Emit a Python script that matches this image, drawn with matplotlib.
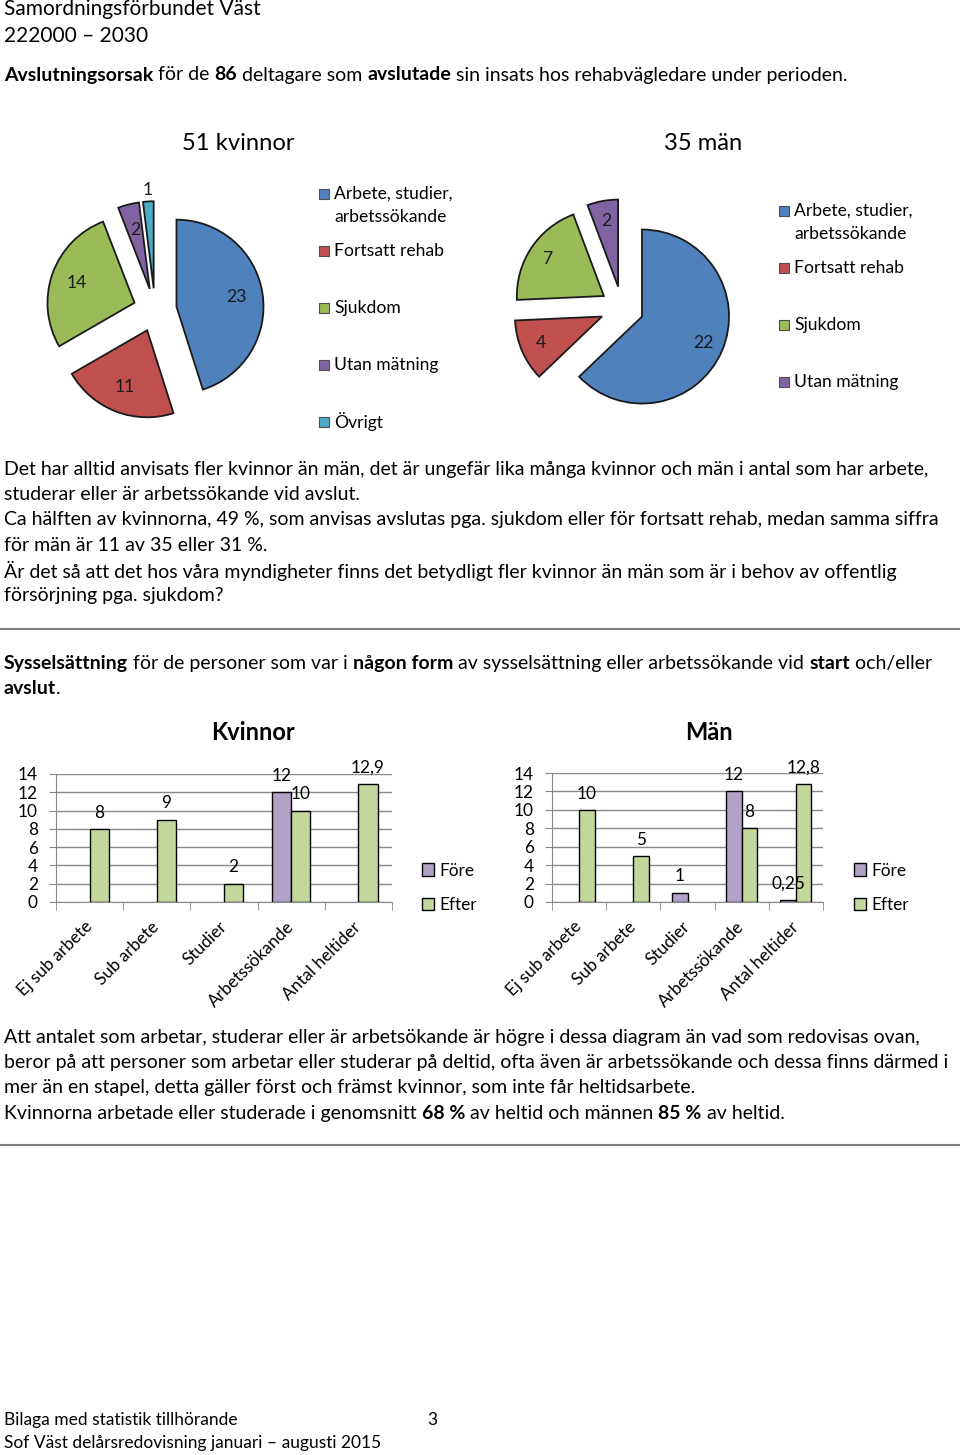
import numpy as np
import matplotlib.pyplot as plt
from matplotlib.patches import Rectangle
from matplotlib.lines import Line2D

plt.rcParams['font.family'] = ['Lato', 'DejaVu Sans']

# Data
pie_labels = ["Arbete, studier,\narbetssökande", "Fortsatt rehab", "Sjukdom", "Utan mätning", "Övrigt"]
kvinnor_pie = [23, 11, 14, 2, 1]
man_pie = [22, 4, 7, 2]

bar_cats = ["Ej sub arbete", "Sub arbete", "Studier", "Arbetssökande", "Antal heltider"]
kvinnor_fore = [np.nan, np.nan, np.nan, 12, np.nan]
kvinnor_efter = [8, 9, 2, 10, 12.9]
man_fore = [np.nan, np.nan, 1, 12, 0.25]
man_efter = [10, 5, np.nan, 8, 12.8]

pie_colors = ['#4F81BD', '#C0504D', '#9BBB59', '#8064A2', '#4BACC6']
fore_color = '#B3A2C7'
efter_color = '#C3D69B'

W, H = 960, 1455
fig = plt.figure(figsize=(9.6, 14.55), dpi=100)
renderer = fig.canvas.get_renderer()


def fx(x):
    return x / W


def fy(y):
    return 1 - y / H


def px_axes(x0, y0, w, h):
    return fig.add_axes([x0 / W, 1 - (y0 + h) / H, w / W, h / H])


def text_width(s, size, weight='normal'):
    # bars round the text so that spaces at the ends count
    t = fig.text(0, 0, "|" + s + "|", fontsize=size, fontweight=weight)
    w1 = t.get_window_extent(renderer).width
    t.set_text("||")
    w2 = t.get_window_extent(renderer).width
    t.remove()
    return w1 - w2


def fit(s, width, weight='normal'):
    return 10 * width / text_width(s, 10, weight)


def rich_line(x, y, line, size):
    # **text** is bold
    for i, s in enumerate(line.split('**')):
        if not s:
            continue
        wt = 'bold' if i % 2 else 'normal'
        fig.text(fx(x), fy(y), s, fontsize=size, fontweight=wt, va='center', ha='left')
        x += text_width(s, size, wt)


# Text sizes
body = fit("Det har alltid anvisats fler kvinnor än män, det är ungefär lika många kvinnor och män i antal som har arbete,", 921)
head = fit("Samordningsförbundet Väst", 258)
pie_title = fit("51 kvinnor", 113)
bar_title = fit("Kvinnor", 84, 'bold')
leg = fit("Fortsatt rehab", 110)
small = fit("Arbetssökande", 114)
foot = fit("Sof Väst delårsredovisning januari – augusti 2015", 376)

# Header
fig.text(fx(4), fy(9), "Samordningsförbundet Väst", fontsize=head, va='center')
fig.text(fx(4), fy(36), "222000 – 2030", fontsize=head, va='center')
rich_line(4, 75, "**Avslutningsorsak** för de **86** deltagare som **avslutade** sin insats hos rehabvägledare under perioden.", body)


# Pies
def draw_pie(cx, cy, values, ld, title, tx, lx, ly):
    r = 87
    ax = px_axes(cx - 1.5 * r, cy - 1.5 * r, 3 * r, 3 * r)
    wedges, texts = ax.pie(values, colors=pie_colors[:len(values)], startangle=90, counterclock=False,
                           explode=[0.25] * len(values), labels=[str(v) for v in values], labeldistance=ld,
                           wedgeprops=dict(edgecolor='#1a1a1a', linewidth=1.3),
                           textprops=dict(fontsize=leg, color='#1a1a1a', ha='center', va='center'))
    ax.set_xlim(-1.5, 1.5)
    ax.set_ylim(-1.5, 1.5)
    fig.text(fx(tx), fy(144), title, fontsize=pie_title, ha='center', va='center')
    # legend
    for i in range(len(values)):
        y = ly + i * 57
        fig.patches.append(Rectangle((fx(lx), fy(y + 5)), 10 / W, 10 / H, transform=fig.transFigure,
                                     facecolor=pie_colors[i], edgecolor='#505050', lw=0.8))
        for j, part in enumerate(pie_labels[i].split('\n')):
            fig.text(fx(lx + 15), fy(y + j * 23), part, fontsize=leg, va='center')
    return texts


t1 = draw_pie(155, 310, kvinnor_pie, 0.7, "51 kvinnor", 238, 319, 194)
x, y = t1[4].get_position()
t1[4].set_position((x * 1.45, y * 1.45))
draw_pie(622, 308, man_pie, 0.77, "35 män", 703, 779, 211)

# Paragraph 1
para1 = [
    "Det har alltid anvisats fler kvinnor än män, det är ungefär lika många kvinnor och män i antal som har arbete,",
    "studerar eller är arbetssökande vid avslut.",
    "Ca hälften av kvinnorna, 49 %, som anvisas avslutas pga. sjukdom eller för fortsatt rehab, medan samma siffra",
    "för män är 11 av 35 eller 31 %.",
    "Är det så att det hos våra myndigheter finns det betydligt fler kvinnor än män som är i behov av offentlig",
    "försörjning pga. sjukdom?",
]
for i, line in enumerate(para1):
    rich_line(4, 469 + i * 25.4, line, body)

for yl in (629, 1145):
    fig.add_artist(Line2D([0, 1], [fy(yl), fy(yl)], transform=fig.transFigure, color='#808080', lw=1.5))

rich_line(4, 664, "**Sysselsättning** för de personer som var i **någon form** av sysselsättning eller arbetssökande vid **start** och/eller", body)
rich_line(4, 689, "**avslut**.", body)


# Bars
def fmt(v):
    return "" if np.isnan(v) else f"{v:g}".replace('.', ',')


def draw_bars(x0, x1, ytop, ybot, fore, efter, title, tx, lx):
    ax = px_axes(x0, ytop, x1 - x0, ybot - ytop)
    x = np.arange(len(bar_cats))
    w = 1 / 3.5
    b1 = ax.bar(x - w / 2, fore, w, color=fore_color, edgecolor='black', linewidth=1, zorder=3)
    b2 = ax.bar(x + w / 2, efter, w, color=efter_color, edgecolor='black', linewidth=1, zorder=3)
    ax.bar_label(b1, labels=[fmt(v) for v in fore], padding=6, fontsize=small)
    ax.bar_label(b2, labels=[fmt(v) for v in efter], padding=6, fontsize=small)
    ax.set_xlim(-0.5, 4.5)
    ax.set_ylim(0, 14)
    ax.set_yticks(range(0, 15, 2))
    ax.yaxis.grid(True, color='#888888', lw=1)
    ax.set_axisbelow(True)
    ax.set_xticks(x)
    ax.set_xticklabels(bar_cats, rotation=45, ha='right', va='center', rotation_mode='anchor')
    ax.set_xticks(np.arange(-0.5, 5, 1), minor=True)
    ax.tick_params(axis='x', which='major', length=0, pad=16, labelsize=small)
    ax.tick_params(axis='x', which='minor', length=6, color='#888888')
    ax.tick_params(axis='y', length=5, color='#888888', labelsize=small, pad=8)
    for s in ('top', 'right'):
        ax.spines[s].set_visible(False)
    for s in ('left', 'bottom'):
        ax.spines[s].set_color('#888888')
    fig.text(fx(tx), fy(733), title, fontsize=bar_title, fontweight='bold', ha='center', va='center')
    fig.legend([b1, b2], ["Före", "Efter"], loc='center left', bbox_to_anchor=(fx(lx), fy(888)),
               frameon=False, handlelength=0.7, handleheight=0.7, handletextpad=0.3,
               labelspacing=1.1, borderpad=0, borderaxespad=0, fontsize=small)


draw_bars(56, 392, 774, 902, kvinnor_fore, kvinnor_efter, "Kvinnor", 253, 422)
draw_bars(552, 823, 773, 902, man_fore, man_efter, "Män", 709, 854)

# Paragraph 2
para2 = [
    "Att antalet som arbetar, studerar eller är arbetsökande är högre i dessa diagram än vad som redovisas ovan,",
    "beror på att personer som arbetar eller studerar på deltid, ofta även är arbetssökande och dessa finns därmed i",
    "mer än en stapel, detta gäller först och främst kvinnor, som inte får heltidsarbete.",
    "Kvinnorna arbetade eller studerade i genomsnitt **68 %** av heltid och männen **85 %** av heltid.",
]
for i, line in enumerate(para2):
    rich_line(4, 1037 + i * 25.4, line, body)

# Footer
fig.text(fx(4), fy(1420), "Bilaga med statistik tillhörande", fontsize=foot, va='center')
fig.text(fx(432), fy(1420), "3", fontsize=foot, va='center', ha='center')
fig.text(fx(4), fy(1443), "Sof Väst delårsredovisning januari – augusti 2015", fontsize=foot, va='center')

fig.savefig("out.png", dpi=100)
